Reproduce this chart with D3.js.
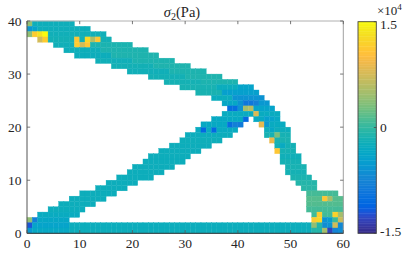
<!DOCTYPE html>
<html><head><meta charset="utf-8">
<script src="https://cdn.jsdelivr.net/npm/d3@7"></script>
<style>
html,body{margin:0;padding:0;background:#fff;}
</style></head><body>
<svg id="c" width="411" height="257"></svg>
<script>
// ---- axes / ticks ----
const X_DOMAIN = [0, 60];
const Y_DOMAIN = [0, 40];
const X_TICKS = [0, 10, 20, 30, 40, 50, 60];
const Y_TICKS = [0, 10, 20, 30, 40];
const CB_DOMAIN = [-15000, 15000];
const CB_TICKS = [-15000, 0, 15000];
const CB_LABELS = ["-1.5", "0", "1.5"];

// ---- element rows: [row, xStart, xEnd, sigma2 (Pa)] ----
const upperBeam = [
  [39,0,9,-2200],[38,0,12,-2200],[37,0,15,-2000],[36,2,16,-1800],
  [35,5,12,-2000],[35,12,20,-1300],[34,7,14,-2200],[34,14,23,-1200],
  [33,9,16,-2300],[33,16,25,-1100],[32,13,20,-2000],[32,20,28,-1200],
  [31,16,24,-1800],[31,24,31,-1100],[30,19,27,-2000],[30,27,34,-1200],
  [29,23,30,-1800],[29,30,37,-1100],[28,26,33,-1700],[28,33,40,-1200],
  [27,29,36,-1500],[27,36,40,-2500],[27,40,43,-4000],
  [26,32,37,-1400],[26,37,44,-4500],[25,35,39,-2500],[25,39,45,-6000],
  [24,37,40,-3500],[24,40,46,-5500],[23,38,47,-4000]
];
const lowerBeam = [
  [3,2,10,-2800],[4,4,11,-2400],[5,6,13,-2300],[6,8,15,-2300],[7,10,17,-2300],
  [8,13,19,-2300],[9,15,21,-2300],[10,17,24,-2300],[11,19,26,-2300],[12,20,28,-2300],
  [13,22,30,-2300],[14,23,31,-2300],[15,25,33,-2300],[16,27,35,-2300],[17,29,37,-2200],
  [18,30,39,-2400],[19,32,40,-2800],[20,33,41,-3200],[21,35,42,-3200],[22,37,48,-2800]
];
const rightLeg = [
  [21,43,48,-3200],[20,44,49,-2800],[19,45,50,-2300],[18,45,50,-1600],[17,46,50,-1400],
  [16,47,51,-1800],[15,47,51,-1600],[14,48,52,-2000],[13,48,52,-1700],[12,49,53,-1500],
  [11,49,53,-1700],[10,50,54,-1300],[9,51,55,-800],[8,52,55,-500],[7,53,59,800],
  [6,53,60,1500],[5,53,60,1400],[4,53,60,800],[3,54,60,600],[2,54,60,400]
];
const bottomBar = [
  [2,0,8,-3500],[1,0,8,-4000],[0,0,8,-3300],
  [1,8,54,-2400],[0,8,54,-2300],[1,54,60,-800],[0,54,60,-800]
];
// ---- individual elements: [x, y, sigma2 (Pa)] ----
const hotCells = [
  [0,39,4000],[0,38,-5500],[1,38,-4000],[0,37,4000],[1,37,11500],[2,37,13500],[3,37,15000],
  [2,36,7500],[3,36,11500],[9,36,11000],[11,36,12500],[12,36,5500],[13,36,11000],
  [9,35,11500],[10,35,7500],[11,35,11000],
  [38,23,-10000],[39,23,-10000],[40,23,-6000],[41,23,5000],[42,23,6000],
  [40,24,-6000],[41,24,-9000],[42,24,-9000],[43,24,-8000],
  [43,22,8000],[41,21,-10500],[38,20,-10000],[39,20,-8000],[40,20,-8500],
  [33,19,-10500],[35,19,-10500],[44,20,8500],[46,17,9000],[47,15,11000],
  [45,21,-4500],[46,21,-4000],[45,20,-5500],[46,19,-3500],[47,18,3000],[48,16,-3000],
  [0,2,4000],[1,2,-8000],[0,1,-12000],[0,0,-5500],
  [56,6,11000],[57,6,5000],[55,3,11500],[58,3,12000],[59,3,5000],[54,2,11500],[55,2,12500],
  [56,2,-6000],[57,2,-5000],[59,2,7000],[56,1,-6500],[57,1,-6000],[58,1,7500],[59,1,-7000],
  [56,0,5000],[57,0,-13000],[58,0,-7500],[59,0,-6500],[54,1,4000]
];

// ---- parula colormap (64 entries) ----
const PARULA = [[0.2081,0.1663,0.5292],[0.2116,0.1898,0.5777],[0.2123,0.2138,0.6270],[0.2081,0.2386,0.6771],[0.1959,0.2645,0.7279],[0.1707,0.2919,0.7792],[0.1253,0.3242,0.8303],[0.0591,0.3598,0.8683],[0.0117,0.3875,0.8820],[0.0060,0.4086,0.8828],[0.0165,0.4266,0.8786],[0.0329,0.4430,0.8720],[0.0498,0.4586,0.8641],[0.0629,0.4737,0.8554],[0.0723,0.4887,0.8467],[0.0779,0.5040,0.8384],[0.0793,0.5200,0.8312],[0.0749,0.5375,0.8263],[0.0641,0.5570,0.8240],[0.0488,0.5772,0.8228],[0.0343,0.5966,0.8199],[0.0265,0.6137,0.8135],[0.0239,0.6287,0.8038],[0.0231,0.6418,0.7913],[0.0228,0.6535,0.7768],[0.0267,0.6642,0.7607],[0.0384,0.6743,0.7436],[0.0590,0.6838,0.7254],[0.0843,0.6928,0.7062],[0.1133,0.7015,0.6859],[0.1453,0.7098,0.6646],[0.1801,0.7177,0.6424],[0.2178,0.7250,0.6193],[0.2586,0.7317,0.5954],[0.3022,0.7376,0.5712],[0.3482,0.7424,0.5473],[0.3953,0.7459,0.5244],[0.4420,0.7481,0.5033],[0.4871,0.7491,0.4840],[0.5300,0.7491,0.4661],[0.5709,0.7485,0.4494],[0.6099,0.7473,0.4337],[0.6473,0.7456,0.4188],[0.6834,0.7435,0.4044],[0.7184,0.7411,0.3905],[0.7525,0.7384,0.3768],[0.7858,0.7356,0.3633],[0.8185,0.7327,0.3498],[0.8507,0.7299,0.3360],[0.8824,0.7274,0.3217],[0.9139,0.7258,0.3063],[0.9450,0.7261,0.2886],[0.9739,0.7314,0.2666],[0.9938,0.7455,0.2403],[0.9990,0.7653,0.2164],[0.9955,0.7861,0.1967],[0.9880,0.8066,0.1794],[0.9789,0.8271,0.1633],[0.9697,0.8481,0.1475],[0.9626,0.8705,0.1309],[0.9589,0.8949,0.1132],[0.9598,0.9218,0.0948],[0.9661,0.9514,0.0755],[0.9763,0.9831,0.0538]];
const parulaColors = PARULA.map(c => d3.rgb(c[0]*255, c[1]*255, c[2]*255).toString());
const colorInterp = d3.piecewise(d3.interpolateRgb, parulaColors);
const color = d3.scaleSequential(colorInterp).domain(CB_DOMAIN).clamp(true);

// ---- layout ----
const FONT = "Liberation Serif";
const svg = d3.select("#c");
const x = d3.scaleLinear().domain(X_DOMAIN).range([27, 343.3]);
const y = d3.scaleLinear().domain(Y_DOMAIN).range([233.3, 21]);

const cells = new Map();
[upperBeam, lowerBeam, rightLeg, bottomBar].forEach(group => {
  group.forEach(([r, a, b, v]) => {
    for (let i = a; i < b; i++) cells.set(i + "," + r, {i, j: r, v});
  });
});
hotCells.forEach(([i, j, v]) => cells.set(i + "," + j, {i, j, v}));
const cellData = Array.from(cells.values());

svg.append("g").selectAll("rect").data(cellData).join("rect")
  .attr("x", d => x(d.i))
  .attr("y", d => y(d.j + 1))
  .attr("width", d => x(d.i + 1) - x(d.i))
  .attr("height", d => y(d.j) - y(d.j + 1))
  .attr("fill", d => color(d.v))
  .attr("stroke", d => color(d.v))
  .attr("stroke-width", 0.35);

const axCol = "#262626";
const x0 = x(0), x1 = x(60), yT = y(40), yB = y(0);
svg.append("line").attr("x1", x0).attr("x2", x1).attr("y1", yT).attr("y2", yT).attr("stroke", "#b0b0b0").attr("stroke-width", 1);
svg.append("line").attr("x1", x1).attr("x2", x1).attr("y1", yT).attr("y2", yB).attr("stroke", "#a0a0a0").attr("stroke-width", 1);
svg.append("line").attr("x1", x0).attr("x2", x0).attr("y1", yT).attr("y2", yB).attr("stroke", "#555").attr("stroke-width", 1);
svg.append("line").attr("x1", x0).attr("x2", x1).attr("y1", yB).attr("y2", yB).attr("stroke", "#333").attr("stroke-width", 1);

const tl = 3.2;
const tg = svg.append("g").attr("stroke", "#555").attr("stroke-width", 0.8);
X_TICKS.forEach(t => {
  tg.append("line").attr("x1", x(t)).attr("x2", x(t)).attr("y1", yB).attr("y2", yB - tl);
  tg.append("line").attr("x1", x(t)).attr("x2", x(t)).attr("y1", yT).attr("y2", yT + tl);
});
Y_TICKS.forEach(t => {
  tg.append("line").attr("x1", x0).attr("x2", x0 + tl).attr("y1", y(t)).attr("y2", y(t));
  tg.append("line").attr("x1", x1).attr("x2", x1 - tl).attr("y1", y(t)).attr("y2", y(t));
});

const fs = 13.5;
svg.append("g").selectAll("text").data(X_TICKS).join("text")
  .attr("x", d => x(d)).attr("y", 248).attr("text-anchor", "middle")
  .attr("font-family", FONT).attr("font-size", fs).attr("fill", axCol).text(d => d);
svg.append("g").selectAll("text").data(Y_TICKS).join("text")
  .attr("x", 21.5).attr("y", d => y(d) + 4.5).attr("text-anchor", "end")
  .attr("font-family", FONT).attr("font-size", fs).attr("fill", axCol).text(d => d);

const title = svg.append("text").attr("x", 182).attr("y", 17).attr("text-anchor", "middle")
  .attr("font-family", FONT).attr("font-size", 14.5).attr("fill", axCol);
title.append("tspan").attr("font-style", "italic").text("σ");
title.append("tspan").attr("font-size", 10).attr("dy", 2.5).text("2");
title.append("tspan").attr("dy", -2.5).text("(Pa)");

const cbX = 358, cbW = 18.3;
const cbY = d3.scaleLinear().domain(CB_DOMAIN).range([233.3, 21.7]);
const nSteps = 128;
const steps = d3.range(nSteps).map(k => CB_DOMAIN[0] + (k + 0.5) * (CB_DOMAIN[1] - CB_DOMAIN[0]) / nSteps);
const stepH = (cbY(CB_DOMAIN[0]) - cbY(CB_DOMAIN[1])) / nSteps;
svg.append("g").selectAll("rect").data(steps).join("rect")
  .attr("x", cbX).attr("width", cbW)
  .attr("y", d => cbY(d) - stepH / 2 - 0.2).attr("height", stepH + 0.4)
  .attr("fill", d => color(d));
svg.append("rect").attr("x", cbX).attr("y", cbY(CB_DOMAIN[1])).attr("width", cbW)
  .attr("height", cbY(CB_DOMAIN[0]) - cbY(CB_DOMAIN[1]))
  .attr("fill", "none").attr("stroke", "#444").attr("stroke-width", 0.9);
CB_TICKS.forEach(t => {
  svg.append("line").attr("x1", cbX + cbW).attr("x2", cbX + cbW - 2.5)
    .attr("y1", cbY(t)).attr("y2", cbY(t)).attr("stroke", "#444").attr("stroke-width", 0.8);
});
const cbLabelY = [235.5, 132, 28.5];
svg.append("g").selectAll("text").data(CB_TICKS).join("text")
  .attr("x", 380).attr("y", (d, k) => cbLabelY[k])
  .attr("font-family", FONT).attr("font-size", fs).attr("fill", axCol).text((d, k) => CB_LABELS[k]);
const exp = svg.append("text").attr("x", 377).attr("y", 15).attr("font-family", FONT)
  .attr("font-size", 13).attr("fill", axCol);
exp.append("tspan").text("×10");
exp.append("tspan").attr("font-size", 9).attr("dy", -5).text("4");
</script>
</body></html>
